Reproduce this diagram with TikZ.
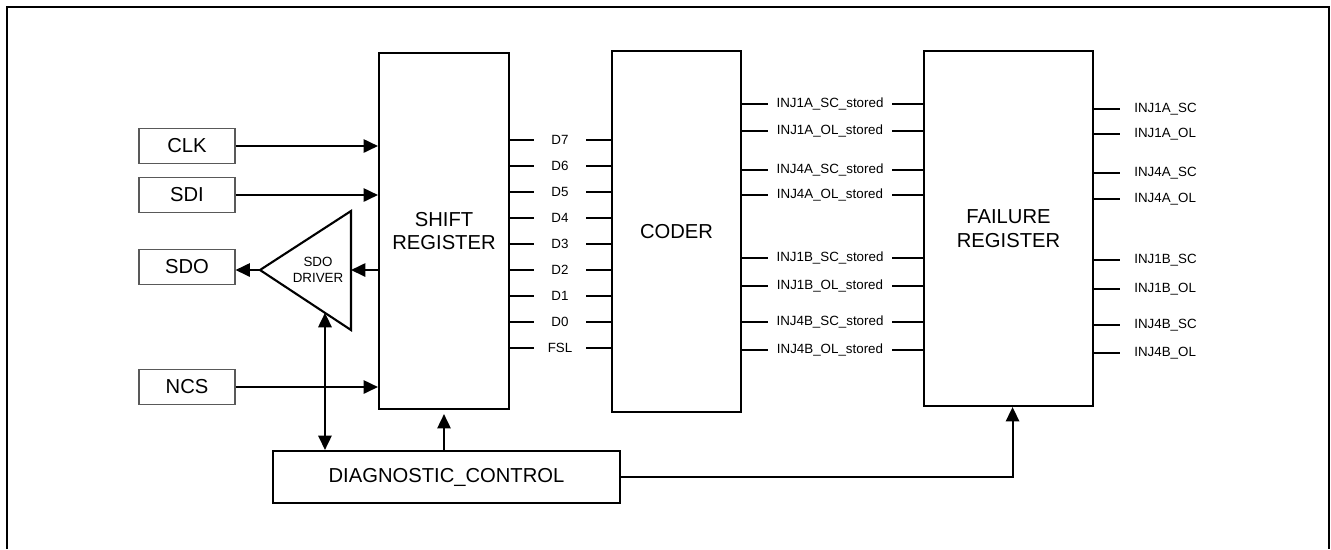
\documentclass[tikz,border=0pt]{standalone}
\usepackage{fontspec}
\setmainfont{Liberation Sans}
\usetikzlibrary{arrows.meta, calc}
\newcommand{\blkfont}{\fontsize{11.5}{13.6}\selectfont}
\newcommand{\pinfont}{\fontsize{7.6}{9.2}\selectfont}

\begin{document}
\begin{tikzpicture}[
  x=0.02cm, y=-0.02cm,
  >={Triangle[length=8.2pt, width=7.6pt]},
  blk/.style={draw, line width=1.2pt, inner sep=0pt, align=center, font=\blkfont},
  inbox/.style={draw=black!65, line width=0.6pt, minimum width=1.92cm,
                minimum height=0.7cm, inner sep=0pt, font=\blkfont},
  sig/.style={->, line width=1.1pt},
  wire/.style={line width=1.1pt},
  dlbl/.style={minimum width=1.04cm, inner sep=0pt, font=\pinfont},
  slbl/.style={minimum width=2.48cm, inner sep=0pt, font=\pinfont},
  outlbl/.style={anchor=west, inner xsep=0.28cm, inner ysep=0pt, font=\pinfont},
]
\useasboundingbox (0,0) rectangle (1331,549);

% ---------- frame ----------
\draw[line width=1pt] (7,549) -- (7,7) -- (1329,7) -- (1329,549);

% ---------- main blocks ----------
\node[blk, minimum width=2.6cm, minimum height=7.12cm] (shift) at (444,231)
  {SHIFT\\REGISTER};
\node[blk, minimum width=2.58cm, minimum height=7.22cm] (coder) at (676.5,231.5)
  {CODER};
\node[blk, minimum width=3.38cm, minimum height=7.1cm] (fail) at (1008.5,228.5)
  {FAILURE\\REGISTER};
\node[blk, minimum width=6.94cm, minimum height=1.04cm] (diag) at (446.5,477)
  {DIAGNOSTIC\_CONTROL};

% ---------- pins ----------
\node[inbox] (clk) at (187,146) {CLK};
\node[inbox] (sdi) at (187,195) {SDI};
\node[inbox] (sdo) at (187,267) {SDO};
\node[inbox] (ncs) at (187,387) {NCS};

\draw[sig] (clk) -- (clk -| shift.west);
\draw[sig] (sdi) -- (sdi -| shift.west);
\draw[sig] (ncs) -- (ncs -| shift.west);

% ---------- SDO driver ----------
\coordinate (drvTip) at (260,270);
\coordinate (drvTop) at (351,211);
\coordinate (drvBot) at (351,330);
\draw[line width=1.2pt] (drvTip) -- (drvTop) -- (drvBot) -- cycle;
\node[font=\pinfont, align=center, inner sep=0pt] (drv) at (318,270) {SDO\\DRIVER};
\draw[sig] (shift.west |- drvTip) -- (drvTop |- drvTip);
\draw[sig] (drvTip) -- (sdo.east |- drvTip);
\coordinate (drvIn) at ($(drvTip)!0.714!(drvBot)$);
\draw[<->, line width=1.1pt] (drvIn) -- (drvIn |- diag.north);

% ---------- control ----------
\draw[sig, shorten >=2.3pt] (diag.north -| shift.south) -- (shift.south);
\draw[sig] (diag.east) -| ([xshift=2.3pt]fail.south);

% ---------- data bits ----------
\foreach \y/\t [count=\i] in {140/D7,166/D6,192/D5,218/D4,244/D3,
                              270/D2,296/D1,322/D0,348/FSL} {
  \node[dlbl] (d\i) at (560,\y) {\t};
  \draw[wire] (shift.east |- d\i) -- (d\i.west);
  \draw[wire] (d\i.east) -- (coder.west |- d\i);
}

% ---------- stored flags ----------
\foreach \y/\t [count=\i] in {104/INJ1A\_SC\_stored,131/INJ1A\_OL\_stored,
                              170/INJ4A\_SC\_stored,195/INJ4A\_OL\_stored,
                              258/INJ1B\_SC\_stored,286/INJ1B\_OL\_stored,
                              322/INJ4B\_SC\_stored,350/INJ4B\_OL\_stored} {
  \node[slbl] (s\i) at (830,\y) {\t};
  \draw[wire] (coder.east |- s\i) -- (s\i.west);
  \draw[wire] (s\i.east) -- (fail.west |- s\i);
}

% ---------- failure outputs ----------
\foreach \y/\t [count=\i] in {109/INJ1A\_SC,134/INJ1A\_OL,173/INJ4A\_SC,199/INJ4A\_OL,
                              260/INJ1B\_SC,289/INJ1B\_OL,325/INJ4B\_SC,353/INJ4B\_OL} {
  \node[outlbl] (o\i) at (1120,\y) {\t};
  \draw[wire] (fail.east |- o\i) -- (o\i.west);
}

\end{tikzpicture}
\end{document}
